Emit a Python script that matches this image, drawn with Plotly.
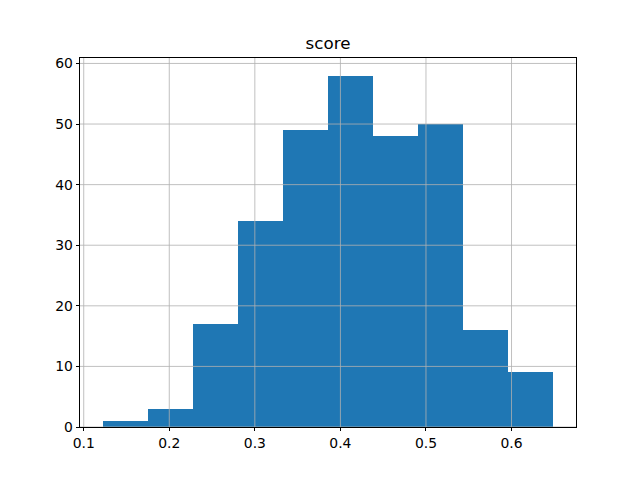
import plotly.graph_objects as go

bin_edges = [0.122, 0.1747, 0.2274, 0.2801, 0.3328, 0.3855, 0.4382, 0.4909, 0.5436, 0.5963, 0.649]
counts = [1, 3, 17, 34, 49, 58, 48, 50, 16, 9]
x_ticks = [0.1, 0.2, 0.3, 0.4, 0.5, 0.6]
y_ticks = [0, 10, 20, 30, 40, 50, 60]

centers = [(a + b) / 2 for a, b in zip(bin_edges[:-1], bin_edges[1:])]
widths = [b - a for a, b in zip(bin_edges[:-1], bin_edges[1:])]

fig = go.Figure(go.Bar(x=centers, y=counts, width=widths, marker=dict(color="#1f77b4", line=dict(width=0))))

grid_style = dict(color="#b0b0b0", width=0.8)
for xv in x_ticks:
    fig.add_shape(type="line", xref="x", yref="paper", x0=xv, x1=xv, y0=0, y1=1,
                  line=grid_style, layer="above")
for yv in y_ticks:
    fig.add_shape(type="line", xref="paper", yref="y", x0=0, x1=1, y0=yv, y1=yv,
                  line=grid_style, layer="above")

span = bin_edges[-1] - bin_edges[0]
axis_common = dict(
    showline=True, linecolor="black", linewidth=0.8, mirror=True,
    ticks="outside", ticklen=3.5, tickwidth=0.8, tickcolor="black",
    showgrid=False, zeroline=False,
    tickfont=dict(family="DejaVu Sans", size=13.9, color="black"),
    layer="above traces",
)
fig.update_layout(
    width=640, height=480,
    margin=dict(l=72, r=72, t=49.6, b=60.8, autoexpand=False),
    paper_bgcolor="white", plot_bgcolor="white",
    title=dict(text="score", x=0.5, xanchor="center", y=1 - 35 / 480, yanchor="middle",
               xref="paper", font=dict(family="DejaVu Sans", size=16.7, color="black")),
    xaxis=dict(range=[bin_edges[0] - 0.05 * span, bin_edges[-1] + 0.05 * span],
               tickvals=x_ticks, ticktext=[f"{v:.1f}" for v in x_ticks], **axis_common),
    yaxis=dict(range=[0, max(counts) * 1.05], tickvals=y_ticks, **axis_common),
    showlegend=False,
    bargap=0,
)
fig.write_html("out.html")
